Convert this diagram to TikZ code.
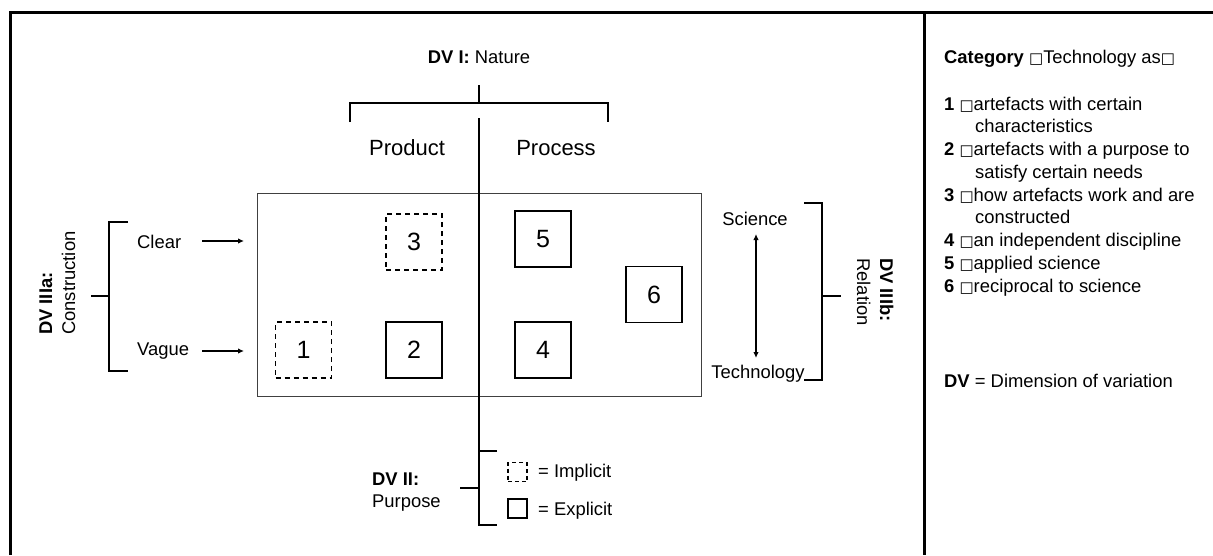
\documentclass[tikz,border=0pt]{standalone}
\usepackage{fontspec}
\setmainfont{Liberation Sans}
\newfontfamily\boxfont{DejaVu Sans}
\newcommand\gbox{{\boxfont\fontsize{15}{15}\selectfont □}}
\usetikzlibrary{arrows.meta}
\begin{document}
\begin{tikzpicture}[x=1pt,y=-1pt,
  txt/.style={font=\fontsize{18.4}{21}\selectfont, inner sep=0pt},
  big/.style={font=\fontsize{22}{24}\selectfont, inner sep=0pt},
  catbox/.style={draw, line width=1.3pt, minimum size=56pt, inner sep=0pt, font=\fontsize{25}{25}\selectfont},
  catimp/.style={catbox, dash pattern=on 5pt off 4pt},
  legbox/.style={draw, line width=1.3pt, minimum size=19pt, inner sep=0pt},
  legimp/.style={legbox, dash pattern=on 4pt off 3pt},
  brk/.style={line width=1.6pt},
  arr/.style={line width=1.2pt, -{Latex[length=6pt,width=5.5pt]}},
  darr/.style={line width=1.2pt, {Latex[length=6pt,width=5.5pt]}-{Latex[length=6pt,width=5.5pt]}},
  frame/.style={line width=3pt}
]
\useasboundingbox (0,0) rectangle (1213,555);
% frame
\draw[frame] (10,555) -- (10,12) -- (1213,12);
\draw[frame] (924,12) -- (924,555);

% DV I
\node[txt, anchor=base] (dv1) at (479,63) {\textbf{DV I:} Nature};
\draw[brk] (479,85) -- (479,103);
\draw[brk] (350,122) -- (350,103) -- (608,103) -- (608,122);
\node[big, anchor=base] (product) at (407,155) {Product};
\node[big, anchor=base] (process) at (556,155) {Process};

% main box
\draw[line width=1pt, draw=black!75] (257,193) rectangle (701,396);
\draw[line width=1.5pt] (479,118) -- (479,510);

% categories
\node[catimp] (c1) at (303.5,350) {1};
\node[catbox] (c2) at (414,350) {2};
\node[catimp] (c3) at (414,242) {3};
\node[catbox] (c4) at (543,350) {4};
\node[catbox] (c5) at (543,239) {5};
\node[catbox] (c6) at (654,294.5) {6};

% DV IIIa
\node[txt, anchor=base west] (clear) at (137,248) {Clear};
\node[txt, anchor=base west] (vague) at (137,355) {Vague};
\coordinate (clearS) at (202,241);
\coordinate (clearE) at (244,241);
\coordinate (vagueS) at (202,351);
\coordinate (vagueE) at (244,351);
\draw[arr] (clearS) -- (clearE);
\draw[arr] (vagueS) -- (vagueE);
\draw[brk] (128,222) -- (109,222) -- (109,371) -- (128,371);
\draw[brk] (91,296) -- (109,296);
\node[txt, rotate=90, anchor=base west] (dv3a) at (52,335) {\textbf{DV IIIa:}};
\node[txt, rotate=90, anchor=base west] (constr) at (75,335) {Construction};

% DV IIIb
\node[txt, anchor=base] (science) at (755,225) {Science};
\node[txt, anchor=base] (techn) at (758,378) {Technology};
\coordinate (sciA) at (756,234);
\coordinate (tecA) at (756,358);
\draw[darr] (sciA) -- (tecA);
\draw[brk] (804,203) -- (822,203) -- (822,380) -- (804,380);
\draw[brk] (822,296) -- (841,296);
\node[txt, rotate=-90, anchor=base west] (dv3b) at (880,258) {\textbf{DV IIIb:}};
\node[txt, rotate=-90, anchor=base west] (relation) at (857,258) {Relation};

% DV II
\node[txt, anchor=base west] (dv2) at (372,485) {\textbf{DV II:}};
\node[txt, anchor=base west] (purpose) at (372,507) {Purpose};
\draw[brk] (497,451) -- (479,451) -- (479,525) -- (497,525);
\draw[brk] (460,488) -- (479,488);
\node[legimp] (limp) at (517.5,472) {};
\node[legbox] (lexp) at (517.5,508.5) {};
\node[txt, anchor=base west] (timp) at (538,477) {= Implicit};
\node[txt, anchor=base west] (texp) at (538,515) {= Explicit};

% right panel
\node[txt, anchor=base west] (cat) at (944,63) {\textbf{Category} \gbox Technology as\gbox};
\node[txt, anchor=base west] (l1) at (944,110) {\textbf{1} \gbox artefacts with certain};
\node[txt, anchor=base west] (l1b) at (975,132.75) {characteristics};
\node[txt, anchor=base west] (l2) at (944,155.5) {\textbf{2} \gbox artefacts with a purpose to};
\node[txt, anchor=base west] (l2b) at (975,178.25) {satisfy certain needs};
\node[txt, anchor=base west] (l3) at (944,201) {\textbf{3} \gbox how artefacts work and are};
\node[txt, anchor=base west] (l3b) at (975,223.75) {constructed};
\node[txt, anchor=base west] (l4) at (944,246.5) {\textbf{4} \gbox an independent discipline};
\node[txt, anchor=base west] (l5) at (944,269.25) {\textbf{5} \gbox applied science};
\node[txt, anchor=base west] (l6) at (944,292) {\textbf{6} \gbox reciprocal to science};
\node[txt, anchor=base west] (dvdef) at (944,387) {\textbf{DV} = Dimension of variation};
\end{tikzpicture}
\end{document}
